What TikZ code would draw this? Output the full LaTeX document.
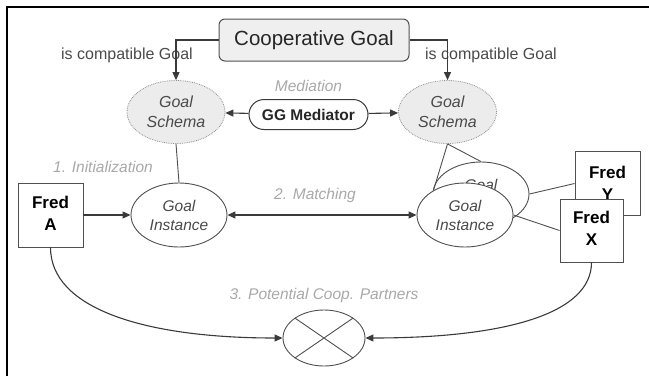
\documentclass[tikz,border=0pt]{standalone}
\usepackage{fontspec}
\setmainfont{Liberation Sans}
\usetikzlibrary{arrows.meta, positioning, shapes.geometric}
\definecolor{edgegray}{HTML}{505050}
\definecolor{linkgray}{HTML}{3A3A3A}
\definecolor{boxfill}{HTML}{EFEFEF}
\definecolor{schemafill}{HTML}{ECECEC}
\definecolor{schemaline}{HTML}{8C8C8C}
\definecolor{textgray}{HTML}{4A4A4A}
\definecolor{notegray}{HTML}{A8A8A8}

\begin{document}
\begin{tikzpicture}[
      x=1pt, y=-1pt,
      goalbox/.style={
        draw=edgegray,
        fill=boxfill,
        line width=1pt,
        rounded corners=6pt,
        minimum width=190pt,
        minimum height=42pt,
        inner sep=0pt,
        text=black!85,
        font=\fontsize{20.5pt}{24pt}\selectfont
      },
      schema/.style={
        ellipse,
        draw=schemaline,
        densely dotted,
        line width=0.8pt,
        fill=schemafill,
        minimum width=98pt,
        minimum height=63pt,
        inner sep=0pt,
        align=center,
        text=textgray,
        font=\fontsize{16pt}{20pt}\selectfont\itshape
      },
      instance/.style={
        ellipse,
        draw=edgegray,
        fill=white,
        line width=0.9pt,
        minimum width=96pt,
        minimum height=64pt,
        inner sep=0pt,
        align=center,
        text=textgray,
        font=\fontsize{15.5pt}{19pt}\selectfont\itshape
      },
      mediator/.style={
        draw=linkgray,
        fill=white,
        line width=1pt,
        rounded corners=15pt,
        minimum width=119pt,
        minimum height=30pt,
        inner sep=0pt,
        text=black!85,
        font=\fontsize{15.5pt}{18pt}\selectfont\bfseries
      },
      agent/.style={
        draw=edgegray,
        fill=white,
        line width=0.9pt,
        minimum width=65pt,
        minimum height=64pt,
        inner sep=0pt,
        align=center,
        font=\fontsize{17pt}{22pt}\selectfont\bfseries
      },
      joiner/.style={
        ellipse,
        draw=edgegray,
        fill=white,
        line width=0.9pt,
        minimum width=82pt,
        minimum height=56pt,
        inner sep=0pt
      },
      note/.style={inner sep=0pt, text=notegray, font=\fontsize{15.5pt}{18pt}\selectfont\itshape},
      relation/.style={inner sep=0pt, text=textgray, font=\fontsize{16pt}{19pt}\selectfont},
      flow/.style={-{Triangle[length=8pt, width=7pt]}, draw=linkgray, line width=1.1pt},
      link/.style={draw=edgegray, line width=0.9pt}
    ]
    \useasboundingbox (0,0) rectangle (649,376);
    \draw[line width=2pt] (6.5,376) -- (6.5,6.5) -- (649,6.5);

    \node[goalbox] (cgoal) at (314,40) {Cooperative Goal};
    \node[schema] (schemaL) at (176,112) {Goal\\Schema};
    \node[schema] (schemaR) at (447.5,112) {Goal\\Schema};
    \node[mediator] (med) at (308.5,114.5) {GG Mediator};
    \node[note, above=7pt of med] (mediation) {Mediation};
    \node[relation] (cmpL) at (127,55) {is compatible Goal};
    \node[relation] (cmpR) at (491,55) {is compatible Goal};

    \node[agent] (fredA) at (50.5,215) {Fred\\A\vphantom{y}};
    \node[instance] (instL) at (179,215) {Goal\\Instance};
    \node[instance] (instB) at (481,194) {Goal\\Instance};
    \node[instance] (instR) at (465,215) {Goal\\Instance};
    \node[agent] (fredY) at (607.5,183.5) {Fred\\Y};
    \node[agent, minimum width=63pt, minimum height=63pt] (fredX) at (591.5,230.5) {Fred\\X\vphantom{y}};
    \node[note] (init) at (103,167) {1. Initialization};
    \node[note] (matching) at (315,195) {2. Matching};

    \node[joiner] (cross) at (324,338) {};
    \node[note, above=7pt of cross] (partners) {3. Potential Coop. Partners};
    \draw[link] (cross.north east) -- (cross.south west)
                (cross.north west) -- (cross.south east);

    \draw[flow] (cgoal.west) -| (schemaL.north);
    \draw[flow] (cgoal.east) -| (schemaR.north);
    \draw[flow] (med) -- (schemaL);
    \draw[flow] (med) -- (schemaR);
    \draw[link] (schemaL.south) -- (instL.north);
    \draw[flow] (fredA) -- (instL);
    \draw[flow, {Triangle[length=8pt, width=7pt]}-{Triangle[length=8pt, width=7pt]}] (instL) -- (instR);
    \draw[link] (schemaR.south) -- (instR.142);
    \draw[link] (schemaR.south) -- (instB.north);
    \draw[link] (instB.east) -- (fredY.west);
    \draw[link] (instR.east) -- (fredX.west);
    \draw[flow] (fredA) to[out=-90, in=180, out looseness=0.62, in looseness=1.44] (cross);
    \draw[flow] (fredX) to[out=-90, in=0, out looseness=0.55, in looseness=1.5] (cross);
  \end{tikzpicture}
\end{document}
